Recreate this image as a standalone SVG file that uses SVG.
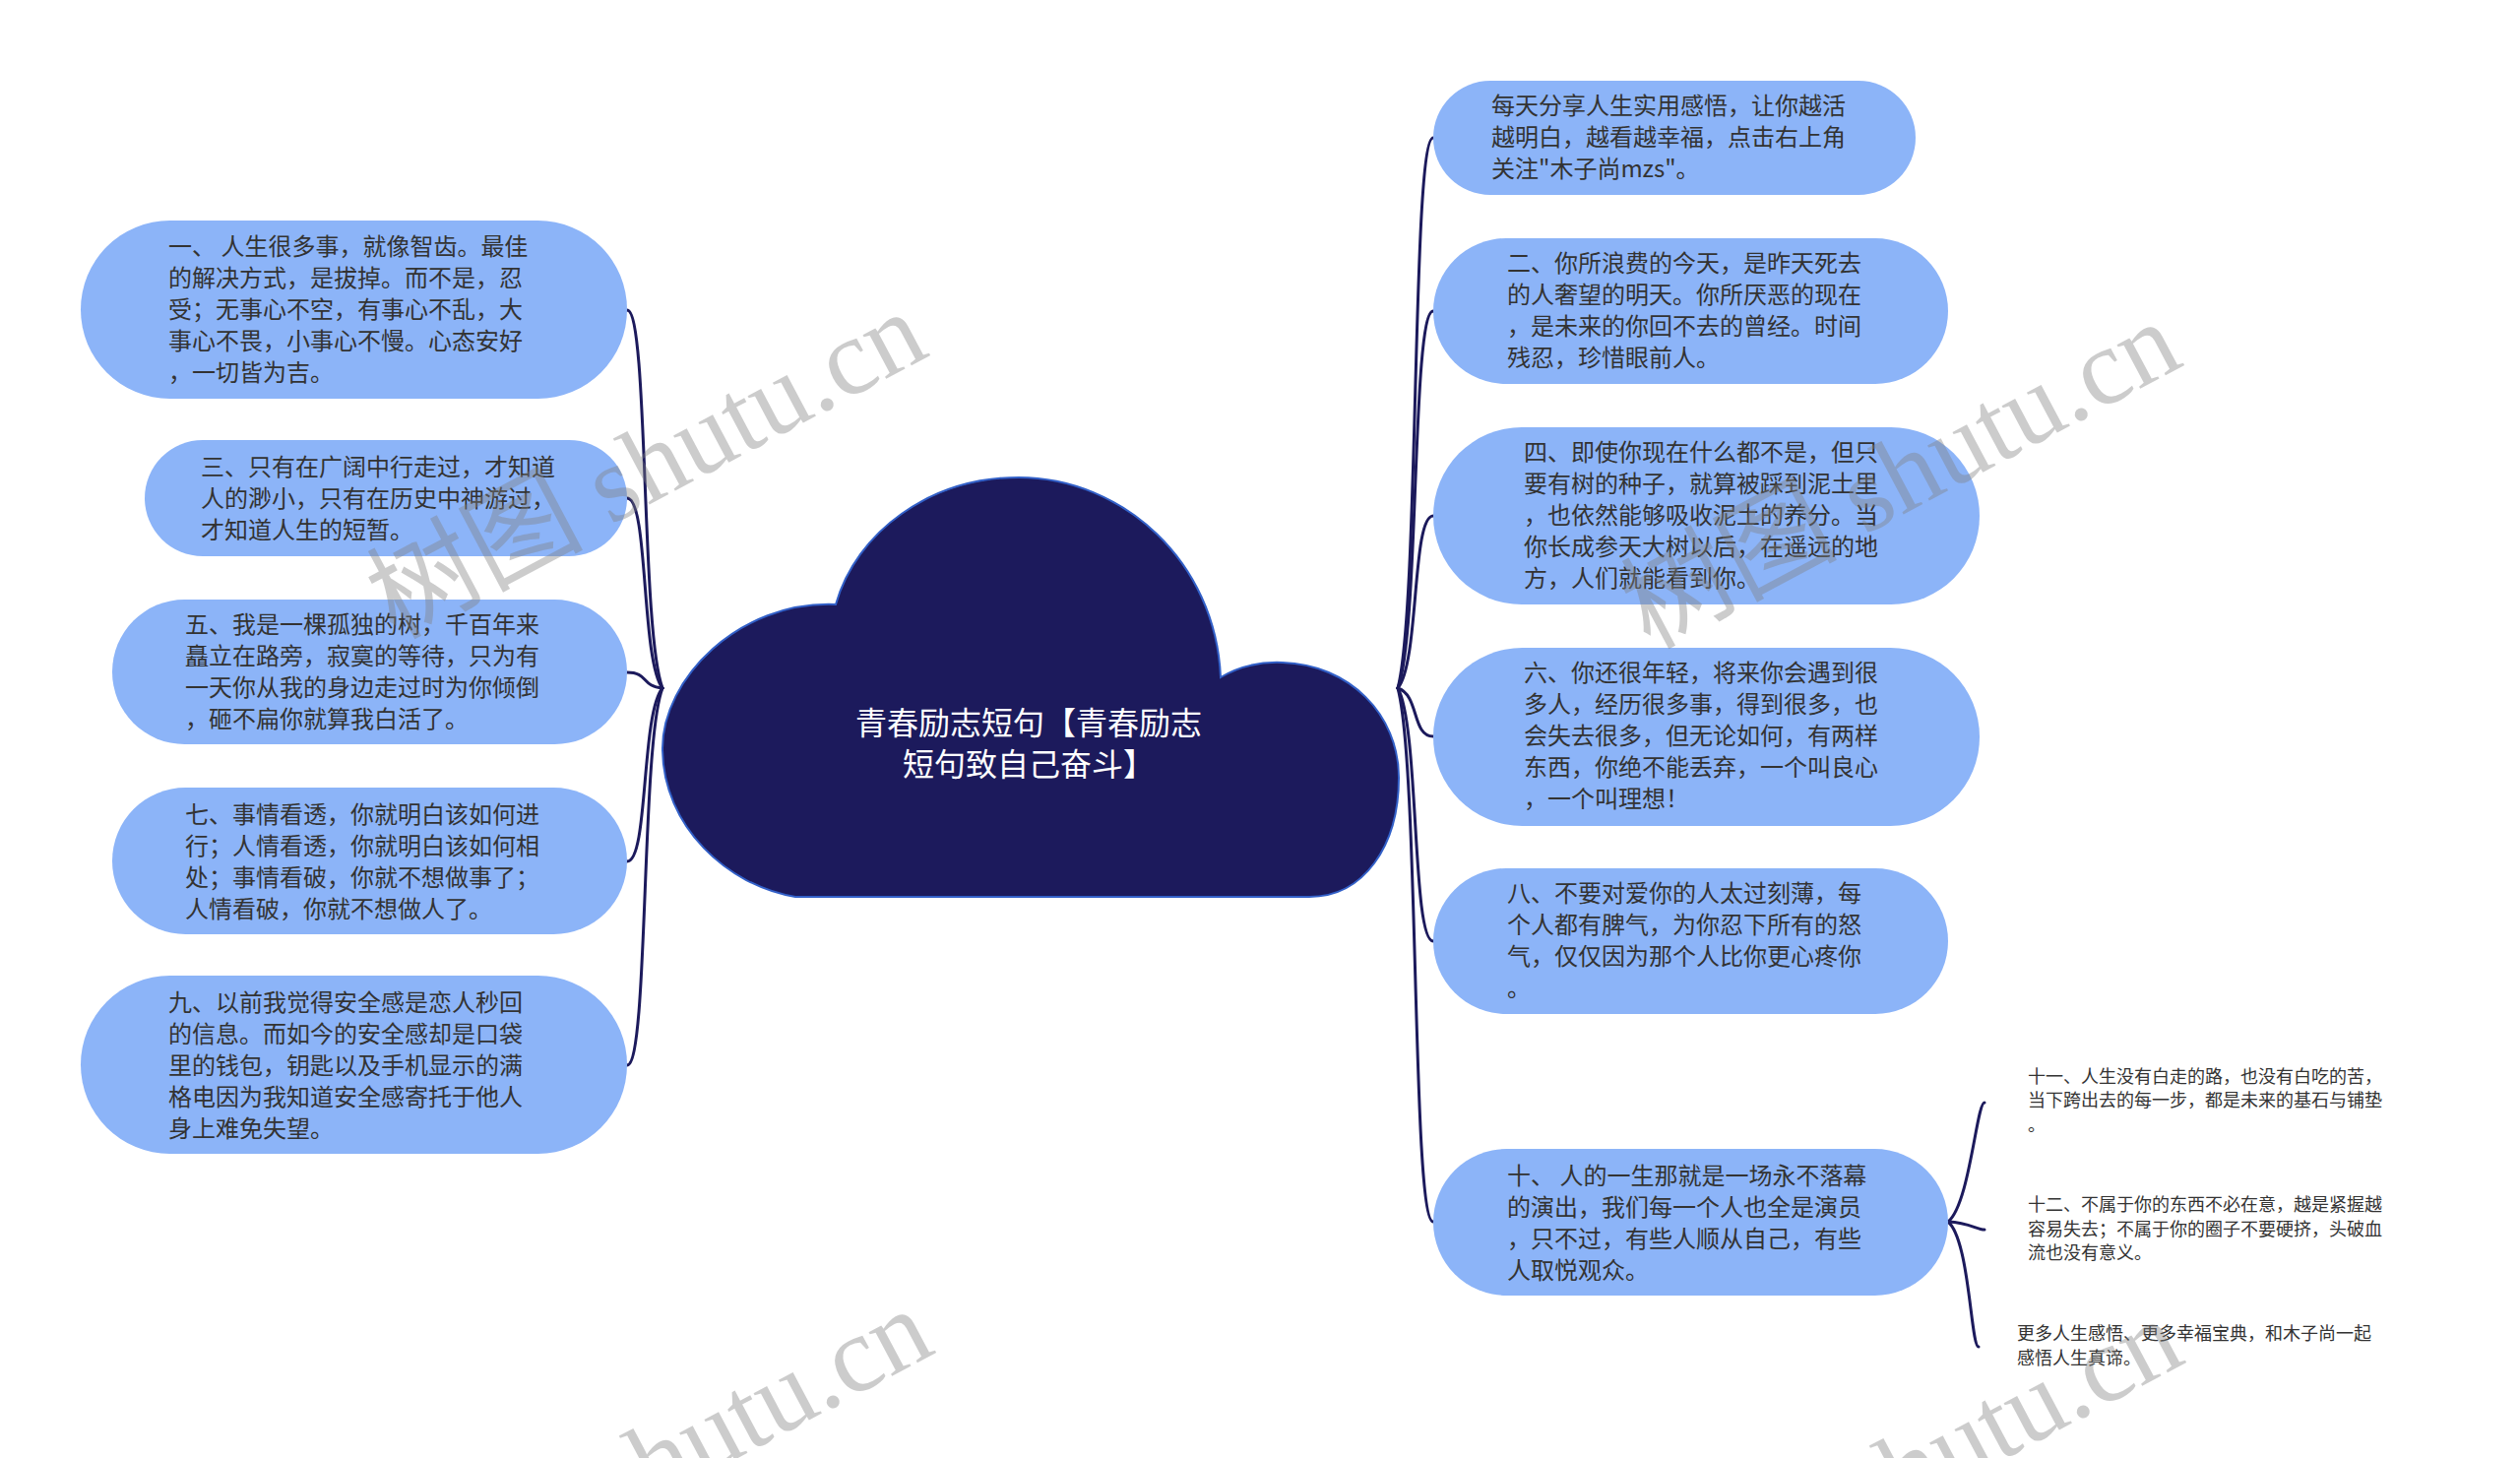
<svg xmlns="http://www.w3.org/2000/svg" width="2560" height="1481" viewBox="0 0 2560 1481">
<style>
.box{fill:#8cb4f8;}
.t{font-family:"Noto Sans CJK SC","Noto Sans",sans-serif;font-size:24px;fill:#333333;}
.s{font-family:"Noto Sans CJK SC","Noto Sans",sans-serif;font-size:18px;fill:#333333;}
.c{font-family:"Noto Sans CJK SC","Noto Sans",sans-serif;font-size:32px;fill:#ffffff;}
.conn path{fill:none;stroke:#1c1a5c;stroke-width:3;stroke-linecap:round;}
.wm{font-family:"Liberation Serif","Noto Sans CJK SC",serif;font-size:110px;fill:#808080;fill-opacity:0.4;}
</style>
<rect width="2560" height="1481" fill="#ffffff"/>
<g class="conn" id="connectors">
<path d="M673 699 C651 641 659 315 637 315"/>
<path d="M673 699 C651 670 659 506 637 506"/>
<path d="M673 699 C651 697 659 683 637 683"/>
<path d="M673 699 C651 725 659 875 637 875"/>
<path d="M673 699 C651 756 659 1082 637 1082"/>
<path d="M1420 699 C1442 615 1434 140 1456 140"/>
<path d="M1420 699 C1442 642 1434 316 1456 316"/>
<path d="M1420 699 C1442 673 1434 524 1456 524"/>
<path d="M1420 699 C1442 706 1434 748 1456 748"/>
<path d="M1420 699 C1442 738 1434 956 1456 956"/>
<path d="M1420 699 C1442 780 1434 1241 1456 1241"/>
<path d="M1979 1241 C2001 1223 2008 1120 2016 1120"/>
<path d="M1979 1241 C2001 1242 2008 1249 2016 1249"/>
<path d="M1979 1241 C2001 1260 2002 1368 2010 1368"/>
</g>
<g id="center">
<path d="M808 911 C740 900 673 840 673 760 C673 690 750 610 849 614 C870 540 945 485 1035 485 C1140 485 1235 570 1240 688 C1260 676 1280 672 1303 673 C1370 675 1421 725 1421 790 C1421 860 1385 911 1330 911 Z" fill="#1c1a5c" stroke="#3260c8" stroke-width="2"/>
<text class="c" text-anchor="middle"><tspan x="1045" y="746">青春励志短句【青春励志</tspan><tspan x="1045" y="788">短句致自己奋斗】</tspan></text>
</g>
<g id="n1">
<rect class="box" x="82" y="224" width="555" height="181" rx="90.5"/>
<text class="t"><tspan x="171" y="259">一、 人生很多事，就像智齿。最佳</tspan><tspan x="171" y="291">的解决方式，是拔掉。而不是，忍</tspan><tspan x="171" y="323">受；无事心不空，有事心不乱，大</tspan><tspan x="171" y="355">事心不畏，小事心不慢。心态安好</tspan><tspan x="171" y="387">，一切皆为吉。</tspan></text>
</g>
<g id="n3">
<rect class="box" x="147" y="447" width="490" height="118" rx="59"/>
<text class="t"><tspan x="204" y="483">三、只有在广阔中行走过，才知道</tspan><tspan x="204" y="515">人的渺小，只有在历史中神游过，</tspan><tspan x="204" y="547">才知道人生的短暂。</tspan></text>
</g>
<g id="n5">
<rect class="box" x="114" y="609" width="523" height="147" rx="73.5"/>
<text class="t"><tspan x="188" y="643">五、我是一棵孤独的树，千百年来</tspan><tspan x="188" y="675">矗立在路旁，寂寞的等待，只为有</tspan><tspan x="188" y="707">一天你从我的身边走过时为你倾倒</tspan><tspan x="188" y="739">，砸不扁你就算我白活了。</tspan></text>
</g>
<g id="n7">
<rect class="box" x="114" y="800" width="523" height="149" rx="74.5"/>
<text class="t"><tspan x="188" y="836">七、事情看透，你就明白该如何进</tspan><tspan x="188" y="868">行；人情看透，你就明白该如何相</tspan><tspan x="188" y="900">处；事情看破，你就不想做事了；</tspan><tspan x="188" y="932">人情看破，你就不想做人了。</tspan></text>
</g>
<g id="n9">
<rect class="box" x="82" y="991" width="555" height="181" rx="90.5"/>
<text class="t"><tspan x="171" y="1027">九、以前我觉得安全感是恋人秒回</tspan><tspan x="171" y="1059">的信息。而如今的安全感却是口袋</tspan><tspan x="171" y="1091">里的钱包，钥匙以及手机显示的满</tspan><tspan x="171" y="1123">格电因为我知道安全感寄托于他人</tspan><tspan x="171" y="1155">身上难免失望。</tspan></text>
</g>
<g id="r0">
<rect class="box" x="1456" y="82" width="490" height="116" rx="58"/>
<text class="t"><tspan x="1515" y="116">每天分享人生实用感悟，让你越活</tspan><tspan x="1515" y="148">越明白，越看越幸福，点击右上角</tspan><tspan x="1515" y="180">关注"木子尚mzs"。</tspan></text>
</g>
<g id="r2">
<rect class="box" x="1456" y="242" width="523" height="148" rx="74"/>
<text class="t"><tspan x="1531" y="276">二、你所浪费的今天，是昨天死去</tspan><tspan x="1531" y="308">的人奢望的明天。你所厌恶的现在</tspan><tspan x="1531" y="340">，是未来的你回不去的曾经。时间</tspan><tspan x="1531" y="372">残忍，珍惜眼前人。</tspan></text>
</g>
<g id="r4">
<rect class="box" x="1456" y="434" width="555" height="180" rx="90"/>
<text class="t"><tspan x="1548" y="468">四、即使你现在什么都不是，但只</tspan><tspan x="1548" y="500">要有树的种子，就算被踩到泥土里</tspan><tspan x="1548" y="532">，也依然能够吸收泥土的养分。当</tspan><tspan x="1548" y="564">你长成参天大树以后，在遥远的地</tspan><tspan x="1548" y="596">方，人们就能看到你。</tspan></text>
</g>
<g id="r6">
<rect class="box" x="1456" y="658" width="555" height="181" rx="90.5"/>
<text class="t"><tspan x="1548" y="692">六、你还很年轻，将来你会遇到很</tspan><tspan x="1548" y="724">多人，经历很多事，得到很多，也</tspan><tspan x="1548" y="756">会失去很多，但无论如何，有两样</tspan><tspan x="1548" y="788">东西，你绝不能丢弃，一个叫良心</tspan><tspan x="1548" y="820">，一个叫理想！</tspan></text>
</g>
<g id="r8">
<rect class="box" x="1456" y="882" width="523" height="148" rx="74"/>
<text class="t"><tspan x="1531" y="916">八、不要对爱你的人太过刻薄，每</tspan><tspan x="1531" y="948">个人都有脾气，为你忍下所有的怒</tspan><tspan x="1531" y="980">气，仅仅因为那个人比你更心疼你</tspan><tspan x="1531" y="1012">。</tspan></text>
</g>
<g id="r10">
<rect class="box" x="1456" y="1167" width="523" height="149" rx="74.5"/>
<text class="t"><tspan x="1531" y="1203">十、 人的一生那就是一场永不落幕</tspan><tspan x="1531" y="1235">的演出，我们每一个人也全是演员</tspan><tspan x="1531" y="1267">，只不过，有些人顺从自己，有些</tspan><tspan x="1531" y="1299">人取悦观众。</tspan></text>
</g>
<g id="s11">
<text class="s"><tspan x="2060" y="1100">十一、人生没有白走的路，也没有白吃的苦，</tspan><tspan x="2060" y="1124">当下跨出去的每一步，都是未来的基石与铺垫</tspan><tspan x="2060" y="1149">。</tspan></text>
</g>
<g id="s12">
<text class="s"><tspan x="2060" y="1230">十二、不属于你的东西不必在意，越是紧握越</tspan><tspan x="2060" y="1255">容易失去；不属于你的圈子不要硬挤，头破血</tspan><tspan x="2060" y="1279">流也没有意义。</tspan></text>
</g>
<g id="s13">
<text class="s"><tspan x="2049" y="1361">更多人生感悟、更多幸福宝典，和木子尚一起</tspan><tspan x="2049" y="1386">感悟人生真谛。</tspan></text>
</g>
<g id="watermarks">
<text class="wm" text-anchor="middle" transform="translate(674 505) rotate(-28)">树图 shutu.cn</text>
<text class="wm" text-anchor="middle" transform="translate(1948 515) rotate(-28)">树图 shutu.cn</text>
<text class="wm" text-anchor="middle" transform="translate(680 1518) rotate(-28)">树图 shutu.cn</text>
<text class="wm" text-anchor="middle" transform="translate(1950 1528) rotate(-28)">树图 shutu.cn</text>
</g>
</svg>
